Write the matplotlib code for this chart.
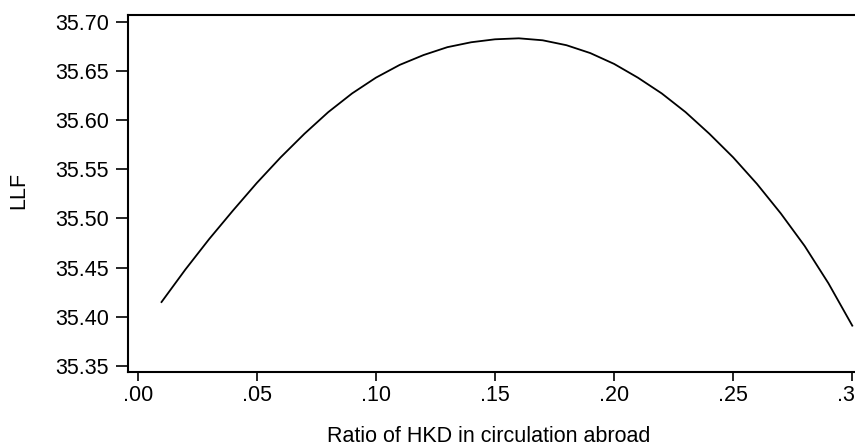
import matplotlib
matplotlib.use("Agg")
import matplotlib.pyplot as plt
from matplotlib.ticker import FixedLocator, FuncFormatter

plt.rcParams['font.family'] = ['Liberation Sans', 'DejaVu Sans']

ratio = [0.01, 0.02, 0.03, 0.04, 0.05, 0.06, 0.07, 0.08, 0.09, 0.10,
         0.11, 0.12, 0.13, 0.14, 0.15, 0.16, 0.17, 0.18, 0.19, 0.20,
         0.21, 0.22, 0.23, 0.24, 0.25, 0.26, 0.27, 0.28, 0.29, 0.30]
llf = [35.415, 35.448, 35.479, 35.508, 35.536, 35.562, 35.586, 35.608, 35.627, 35.643,
       35.656, 35.666, 35.674, 35.679, 35.682, 35.683, 35.681, 35.676, 35.668, 35.657,
       35.643, 35.627, 35.608, 35.586, 35.562, 35.535, 35.505, 35.472, 35.434, 35.391]

xticks = [0.00, 0.05, 0.10, 0.15, 0.20, 0.25, 0.30]
yticks = [35.35, 35.40, 35.45, 35.50, 35.55, 35.60, 35.65, 35.70]
xlabel = "Ratio of HKD in circulation abroad"
ylabel = "LLF"

W, H = 855, 445
fig = plt.figure(figsize=(W / 100, H / 100), dpi=100)
ax_l, ax_r, ax_t, ax_b = 127.7, 858.0, 14.7, 372.3
ax = fig.add_axes([ax_l / W, 1 - ax_b / H, (ax_r - ax_l) / W, (ax_b - ax_t) / H])

ax.plot(ratio, llf, color='black', lw=1.3, solid_joinstyle='round')

ax.set_xlim(-0.0042, 0.3024)
ax.set_ylim(35.3436, 35.7070)

ax.xaxis.set_major_locator(FixedLocator(xticks))
ax.yaxis.set_major_locator(FixedLocator(yticks))
ax.xaxis.set_major_formatter(FuncFormatter(lambda v, p: ("%.2f" % v).lstrip('0')))
ax.yaxis.set_major_formatter(FuncFormatter(lambda v, p: "%.2f" % v))

for side in ['left', 'bottom', 'top']:
    ax.spines[side].set_linewidth(1.5)
    ax.spines[side].set_color('black')
ax.spines['right'].set_visible(False)

fs = 15.5
ax.tick_params(axis='y', length=8.4, width=1.2, pad=5.0, labelsize=fs, colors='black')
ax.tick_params(axis='x', length=6.5, width=1.2, pad=3.0, labelsize=fs, colors='black')

ax.set_xlabel(xlabel, fontsize=fs, va='baseline', ha='center')
ax.xaxis.set_label_coords((488.3 - ax_l) / (ax_r - ax_l), -(442 - ax_b) / (ax_b - ax_t))
ax.set_ylabel(ylabel, fontsize=fs, va='center', ha='center')
ax.yaxis.set_label_coords((19 - ax_l) / (ax_r - ax_l), (ax_b - 190) / (ax_b - ax_t))

fig.savefig("out.png", dpi=100)
